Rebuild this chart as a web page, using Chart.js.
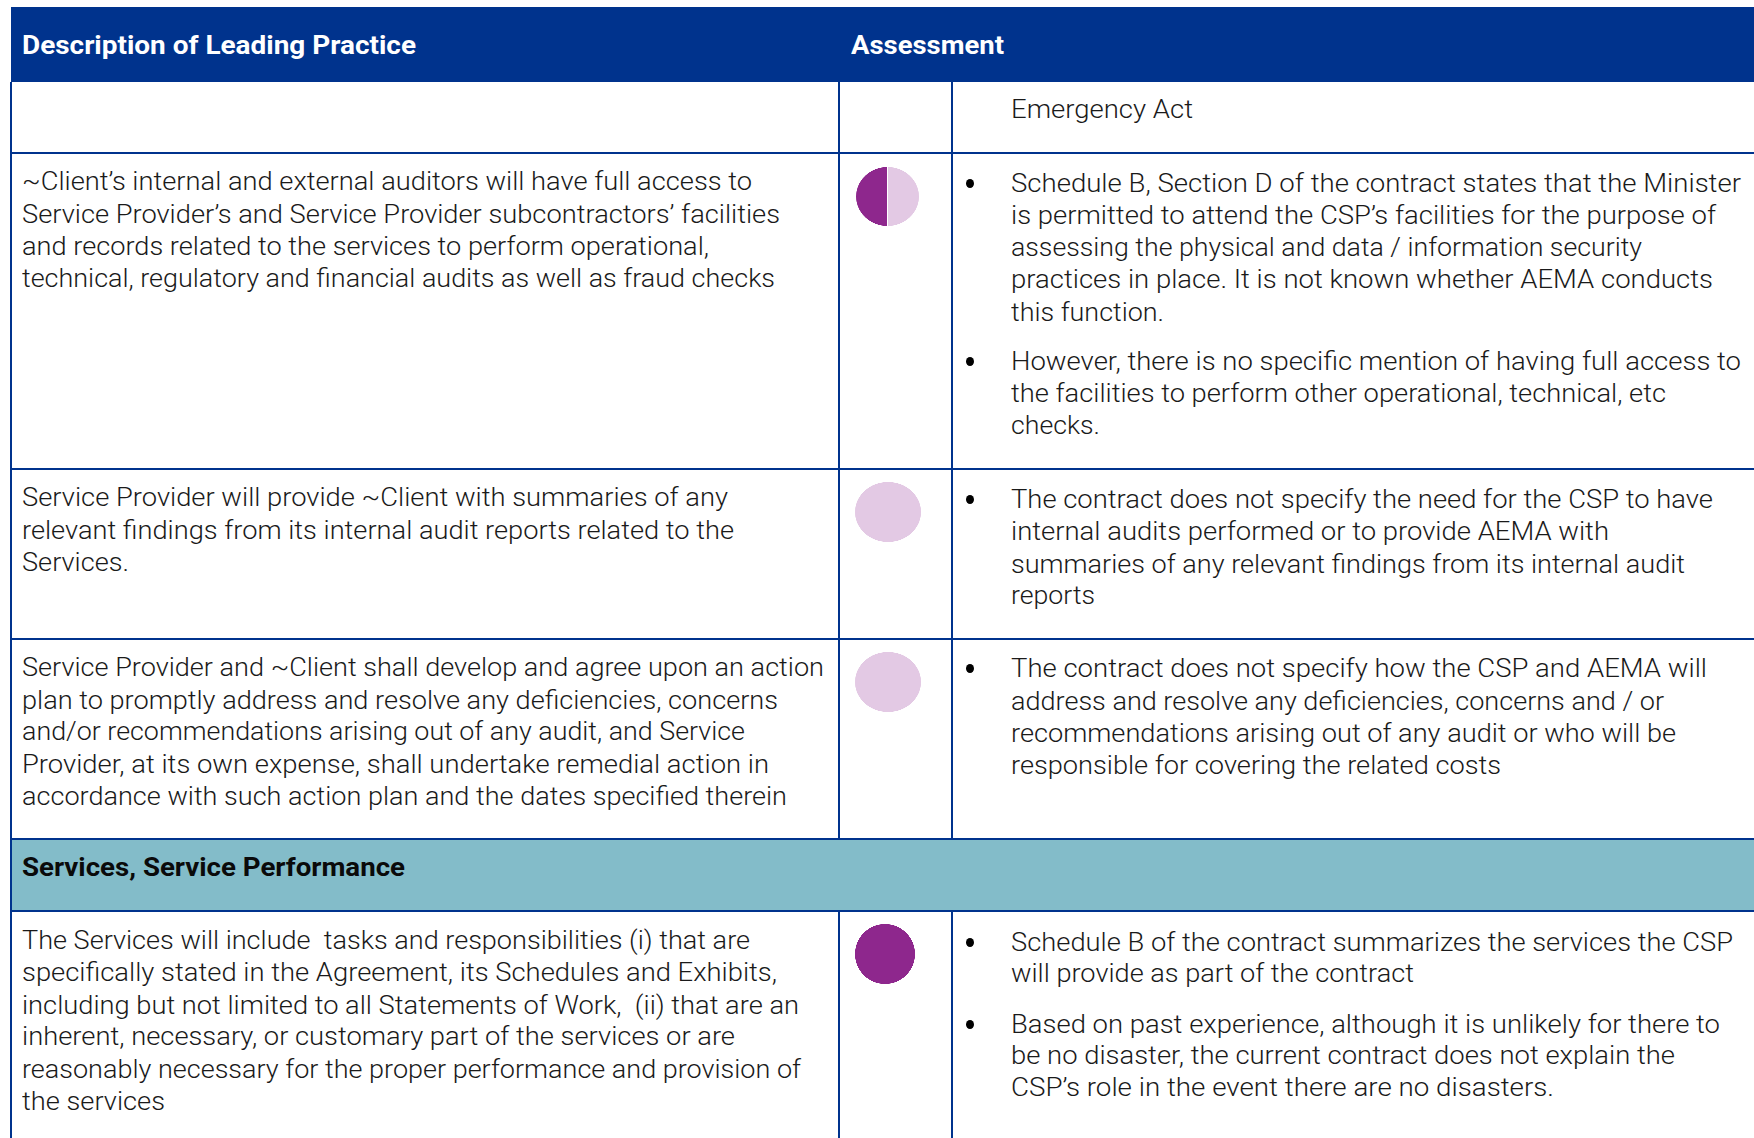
<!DOCTYPE html>
<html>
<head>
<meta charset="utf-8">
<title>Leading practice assessment</title>
<script src="https://cdn.jsdelivr.net/npm/chart.js@4"></script>
<style>
  html, body { margin: 0; padding: 0; background: #fff; }
  #page { position: relative; width: 1754px; height: 1138px; overflow: hidden; font-family: Roboto, "Liberation Sans", sans-serif; }
  .box { position: absolute; }
  .txt { position: absolute; white-space: pre; font-size: 25px; line-height: 30px; font-weight: 300; color: #1a1a1a; transform-origin: 0 0; }
  .txt.b { font-weight: 700; }
  .ball { position: absolute; }
</style>
</head>
<body>
<div id="page"></div>
<script>
// harvey balls, share of the ball that is filled
const ratings = ['Access to facilities', 'Internal audit summaries', 'Action plan', 'Services scope']
const filled = [50, 0, 0, 100]
const unfilled = [50, 100, 100, 0]

const headers = ['Description of Leading Practice', 'Assessment']
const section = 'Services, Service Performance'

const leftLines = [
  '~Client’s internal and external auditors will have full access to',
  'Service Provider’s and Service Provider subcontractors’ facilities',
  'and records related to the services to perform operational,',
  'technical, regulatory and financial audits as well as fraud checks',
  'Service Provider will provide ~Client with summaries of any',
  'relevant findings from its internal audit reports related to the',
  'Services.',
  'Service Provider and ~Client shall develop and agree upon an action',
  'plan to promptly address and resolve any deficiencies, concerns',
  'and/or recommendations arising out of any audit, and Service',
  'Provider, at its own expense, shall undertake remedial action in',
  'accordance with such action plan and the dates specified therein',
  'The Services will include  tasks and responsibilities (i) that are',
  'specifically stated in the Agreement, its Schedules and Exhibits,',
  'including but not limited to all Statements of Work,  (ii) that are an',
  'inherent, necessary, or customary part of the services or are',
  'reasonably necessary for the proper performance and provision of',
  'the services'
]
const leftBase = [190, 223, 255, 287, 506, 539, 571, 676, 709, 740, 773, 805, 949, 981, 1014, 1045, 1078, 1110]
const leftEnd = [752, 780, 709, 775, 728, 734, 129, 824, 778, 745, 769, 787, 750, 777, 799, 735, 801, 165]

const rightLines = [
  'Emergency Act',
  'Schedule B, Section D of the contract states that the Minister',
  'is permitted to attend the CSP’s facilities for the purpose of',
  'assessing the physical and data / information security',
  'practices in place. It is not known whether AEMA conducts',
  'this function.',
  'However, there is no specific mention of having full access to',
  'the facilities to perform other operational, technical, etc',
  'checks.',
  'The contract does not specify the need for the CSP to have',
  'internal audits performed or to provide AEMA with',
  'summaries of any relevant findings from its internal audit',
  'reports',
  'The contract does not specify how the CSP and AEMA will',
  'address and resolve any deficiencies, concerns and / or',
  'recommendations arising out of any audit or who will be',
  'responsible for covering the related costs',
  'Schedule B of the contract summarizes the services the CSP',
  'will provide as part of the contract',
  'Based on past experience, although it is unlikely for there to',
  'be no disaster, the current contract does not explain the',
  'CSP’s role in the event there are no disasters.'
]
const rightBase = [118, 192, 224, 256, 288, 321, 370, 402, 434, 508, 540, 573, 604, 677, 710, 742, 774, 951, 982, 1033, 1064, 1096]
const rightEnd = [1193, 1741, 1716, 1642, 1713, 1164, 1741, 1666, 1100, 1713, 1609, 1685, 1095, 1707, 1664, 1676, 1501, 1733, 1414, 1720, 1675, 1554]
const bulletRows = [1, 6, 9, 13, 17, 19]

const BLUE = '#00338D'
const TEAL = '#83BCC9'
const PURPLE = '#8E278D'
const LILAC = '#E3C9E4'

const page = document.getElementById('page')

function box(x, y, w, h, color) {
  const d = document.createElement('div')
  d.className = 'box'
  d.style.cssText = `left:${x}px;top:${y}px;width:${w}px;height:${h}px;background:${color}`
  page.appendChild(d)
}

// one line of text, squeezed to end where the line ends in the reference
function line(text, x, base, end, bold, color) {
  const s = document.createElement('div')
  s.className = bold ? 'txt b' : 'txt'
  s.textContent = text
  s.style.left = x + 'px'
  s.style.top = (base - 23.5) + 'px'
  if (color) s.style.color = color
  page.appendChild(s)
  const w = s.getBoundingClientRect().width
  s.style.transform = `scaleX(${(end - x) / w})`
}

// table frame
box(11, 7, 1743, 75, BLUE)
box(11, 839, 1743, 72, TEAL)
box(10, 82, 2, 1056, BLUE)
box(838, 82, 2, 757, BLUE)
box(951, 82, 2, 757, BLUE)
box(838, 911, 2, 227, BLUE)
box(951, 911, 2, 227, BLUE)
box(11, 152, 1743, 2, BLUE)
box(11, 468, 1743, 2, BLUE)
box(11, 638, 1743, 2, BLUE)
box(11, 838, 1743, 1.5, BLUE)
box(11, 910, 1743, 2, BLUE)

line(headers[0], 22, 54, 416, true, '#fff')
line(headers[1], 851, 54, 1004, true, '#fff')
line(section, 22, 876, 405, true, '#0a0a0a')

leftLines.forEach((t, i) => line(t, 22, leftBase[i], leftEnd[i]))
rightLines.forEach((t, i) => line(t, 1011, rightBase[i], rightEnd[i]))

bulletRows.forEach(i => {
  const d = document.createElement('div')
  d.className = 'box'
  d.style.cssText = `left:965.5px;top:${rightBase[i] - 13}px;width:8px;height:9px;border-radius:50%;background:#000`
  page.appendChild(d)
})

// assessment balls are slightly oval in the reference, so the canvas gets stretched after drawing
const ballX = [854.5, 855, 855, 855]
const ballY = [165.5, 482, 652, 924]
const ballW = [65, 66, 66, 60]
const ballH = [61, 60, 60, 60]

ratings.forEach((name, i) => {
  const c = document.createElement('canvas')
  c.className = 'ball'
  c.width = ballH[i]
  c.height = ballH[i]
  page.appendChild(c)
  const both = filled[i] > 0 && unfilled[i] > 0
  new Chart(c, {
    type: 'pie',
    data: {
      labels: ['Met', 'Not met'],
      datasets: [{
        label: name,
        data: [filled[i], unfilled[i]],
        backgroundColor: [PURPLE, LILAC],
        borderWidth: both ? 1 : 0,
        borderColor: '#fff'
      }]
    },
    options: {
      responsive: false,
      animation: false,
      devicePixelRatio: 3,
      rotation: 180,
      events: [],
      layout: { padding: 0 },
      plugins: { legend: { display: false }, tooltip: { enabled: false } }
    }
  })
  c.style.left = ballX[i] + 'px'
  c.style.top = ballY[i] + 'px'
  c.style.width = ballW[i] + 'px'
  c.style.height = ballH[i] + 'px'
})
</script>
</body>
</html>
